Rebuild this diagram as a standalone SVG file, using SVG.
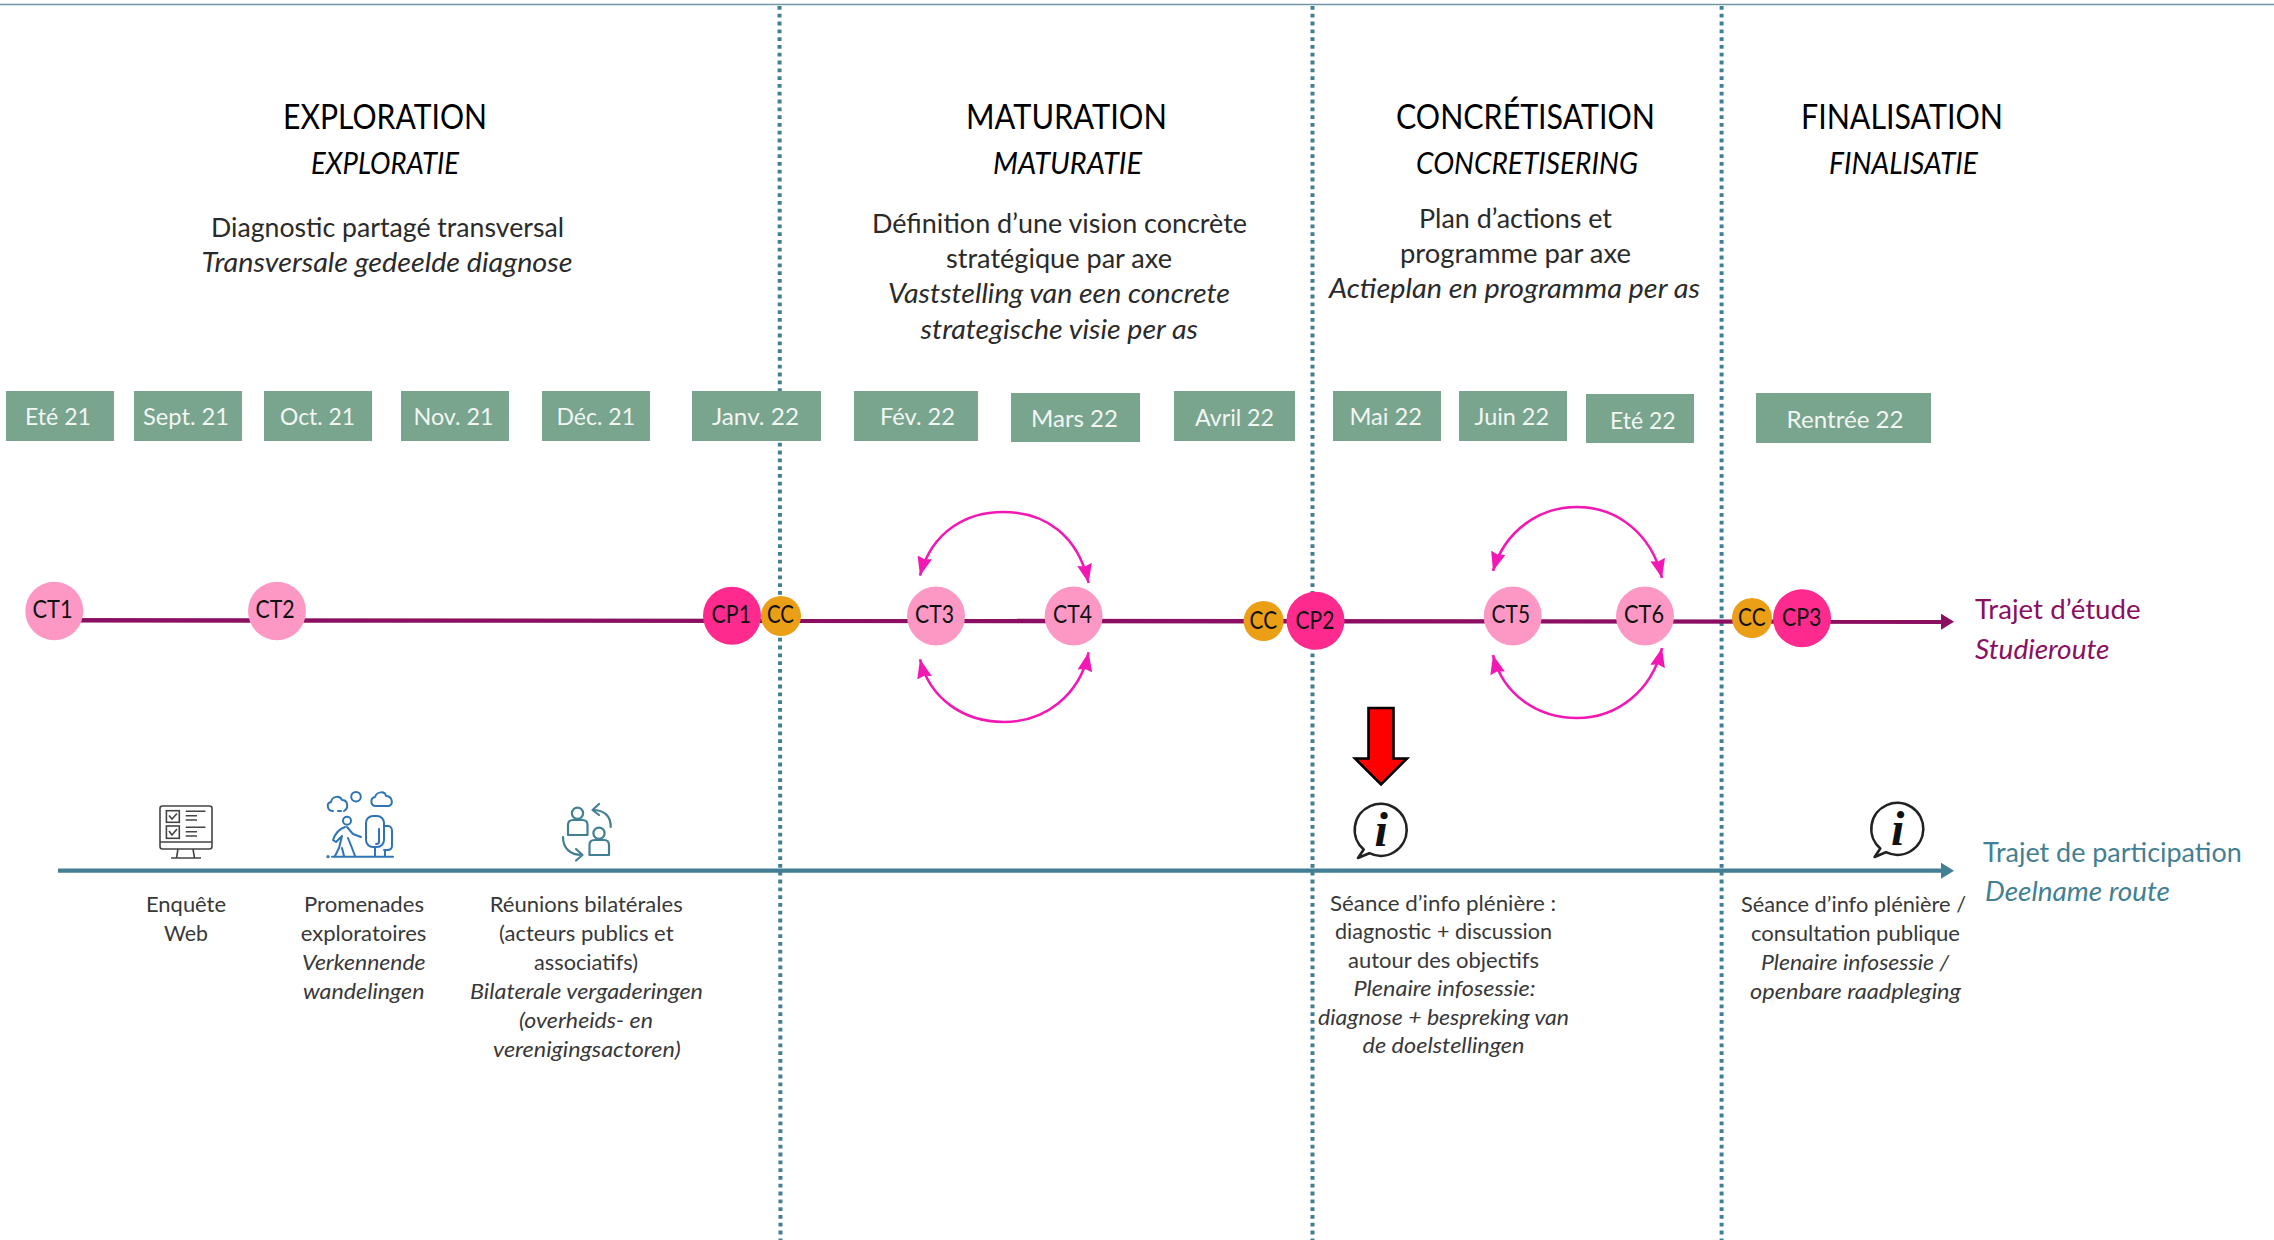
<svg xmlns="http://www.w3.org/2000/svg" width="2274" height="1240" viewBox="0 0 2274 1240">
<style>
text{font-family:"Lato","Open Sans","Liberation Sans",sans-serif;fill:#000}
.it{font-style:italic}
.h1{font-size:34px}
.h2{font-size:30px;font-style:italic}
.b{font-size:26.5px;fill:#2a2a2a}
.s{font-size:21.5px;fill:#383838}
.m{font-size:24px;fill:#f2f6f3}
.n{font-size:25px;fill:#111}
.mb{fill:#79a48e}
.ct{fill:#fd98c5}
.cp{fill:#fe2a8d}
.cc{fill:#eb9f17}
.r1{font-size:27px;fill:#8a0f62}
.r2{font-size:27px;fill:#437f94}
.dot{stroke:#437f94;stroke-width:4;stroke-dasharray:3.8 4;fill:none}
.arc{stroke:#f318b4;stroke-width:2.6;fill:none;marker-start:url(#pk);marker-end:url(#pk)}
.ic1{fill:none;stroke:#444;stroke-width:1.6}
.ic2{fill:none;stroke:#2f75b5;stroke-width:2;stroke-linecap:round;stroke-linejoin:round}
.ic3{fill:none;stroke:#437f94;stroke-width:2.2;stroke-linecap:round;stroke-linejoin:round}
.bub{fill:#fff;stroke:#222;stroke-width:2.6;stroke-linejoin:round}
.i{font-family:"Liberation Serif",serif;font-weight:bold;font-style:italic;font-size:48px;fill:#111}
</style>
<defs>
<marker id="pk" viewBox="0 0 19 15" refX="19" refY="7.5" markerWidth="19" markerHeight="15" markerUnits="userSpaceOnUse" orient="auto-start-reverse"><path d="M0,0 L19,7.5 L0,15 L2,7.5 Z" fill="#f318b4"/></marker>
<marker id="pu" viewBox="0 0 13 16" refX="0" refY="8" markerWidth="13" markerHeight="16" markerUnits="userSpaceOnUse" orient="auto"><path d="M0,0 L13,8 L0,16 Z" fill="#8a0f62"/></marker>
<marker id="te" viewBox="0 0 13 16" refX="0" refY="8" markerWidth="13" markerHeight="16" markerUnits="userSpaceOnUse" orient="auto"><path d="M0,0 L13,8 L0,16 Z" fill="#437f94"/></marker>
</defs>
<rect width="2274" height="1240" fill="#fff"/>
<line x1="0" y1="4.5" x2="2274" y2="4.5" stroke="#6f97a6" stroke-width="1.6"/>

<g id="connectors">
<line class="dot" x1="779.5" y1="6" x2="780.5" y2="1240"/>
<line class="dot" x1="1312.5" y1="6" x2="1312.5" y2="1240"/>
<line class="dot" x1="1721.6" y1="6" x2="1721.6" y2="1240"/>
<path d="M54,620.3 L1941,621.7" stroke="#8a0f62" stroke-width="4.4" fill="none" marker-end="url(#pu)"/>
<path d="M58,870.7 L1941,870.7" stroke="#437f94" stroke-width="4.2" fill="none" marker-end="url(#te)"/>
<path class="arc" d="M920,575.7 C932,530 968,512 1003,512 C1045,512 1078,535 1088.6,583"/>
<path class="arc" d="M920,659.3 C930,700 965,722 1003.6,722 C1045,722 1080,695 1088.6,652.3"/>
<path class="arc" d="M1493,571 C1505,530 1540,507 1577,507 C1618,507 1652,535 1662,578"/>
<path class="arc" d="M1493,655 C1503,695 1538,718 1577,718 C1618,718 1652,690 1662,648"/>
</g>

<g id="phase-exploration">
<text class="h1" x="283" y="128.5" textLength="204" lengthAdjust="spacingAndGlyphs">EXPLORATION</text>
<text class="h2" x="311" y="174" textLength="148" lengthAdjust="spacingAndGlyphs">EXPLORATIE</text>
<text class="b" x="211" y="236.7" textLength="353" lengthAdjust="spacingAndGlyphs">Diagnostic partagé transversal</text>
<text class="b it" x="201.5" y="271.7" textLength="371" lengthAdjust="spacingAndGlyphs">Transversale gedeelde diagnose</text>
</g>
<g id="phase-maturation">
<text class="h1" x="966" y="128.5" textLength="201" lengthAdjust="spacingAndGlyphs">MATURATION</text>
<text class="h2" x="993" y="174" textLength="149" lengthAdjust="spacingAndGlyphs">MATURATIE</text>
<text class="b" x="872" y="232.5" textLength="375" lengthAdjust="spacingAndGlyphs">Définition d’une vision concrète</text>
<text class="b" x="946" y="268" textLength="226" lengthAdjust="spacingAndGlyphs">stratégique par axe</text>
<text class="b it" x="888" y="303" textLength="342" lengthAdjust="spacingAndGlyphs">Vaststelling van een concrete</text>
<text class="b it" x="920.6" y="338.5" textLength="277.4" lengthAdjust="spacingAndGlyphs">strategische visie per as</text>
</g>
<g id="phase-concretisation">
<text class="h1" x="1396" y="128.5" textLength="259" lengthAdjust="spacingAndGlyphs">CONCRÉTISATION</text>
<text class="h2" x="1416" y="174" textLength="222" lengthAdjust="spacingAndGlyphs">CONCRETISERING</text>
<text class="b" x="1419" y="227.5" textLength="193" lengthAdjust="spacingAndGlyphs">Plan d’actions et</text>
<text class="b" x="1400" y="262.5" textLength="231" lengthAdjust="spacingAndGlyphs">programme par axe</text>
<text class="b it" x="1329" y="298" textLength="371" lengthAdjust="spacingAndGlyphs">Actieplan en programma per as</text>
</g>
<g id="phase-finalisation">
<text class="h1" x="1801" y="128.5" textLength="202" lengthAdjust="spacingAndGlyphs">FINALISATION</text>
<text class="h2" x="1829" y="174" textLength="149" lengthAdjust="spacingAndGlyphs">FINALISATIE</text>
</g>

<g id="month-ete21"><rect class="mb" x="6" y="391" width="108" height="50"/><text class="m" x="25" y="425" textLength="66" lengthAdjust="spacingAndGlyphs">Eté 21</text></g>
<g id="month-sept21"><rect class="mb" x="134" y="391" width="108" height="50"/><text class="m" x="143" y="425" textLength="86" lengthAdjust="spacingAndGlyphs">Sept. 21</text></g>
<g id="month-oct21"><rect class="mb" x="264" y="391" width="108" height="50"/><text class="m" x="280" y="425" textLength="75" lengthAdjust="spacingAndGlyphs">Oct. 21</text></g>
<g id="month-nov21"><rect class="mb" x="401" y="391" width="108" height="50"/><text class="m" x="413.5" y="425" textLength="80" lengthAdjust="spacingAndGlyphs">Nov. 21</text></g>
<g id="month-dec21"><rect class="mb" x="542" y="391" width="108" height="50"/><text class="m" x="556.5" y="425" textLength="78.5" lengthAdjust="spacingAndGlyphs">Déc. 21</text></g>
<g id="month-janv22"><rect class="mb" x="692" y="391" width="129" height="50"/><text class="m" x="712" y="425" textLength="87" lengthAdjust="spacingAndGlyphs">Janv. 22</text></g>
<g id="month-fev22"><rect class="mb" x="854" y="391" width="124" height="50"/><text class="m" x="880" y="425" textLength="75" lengthAdjust="spacingAndGlyphs">Fév. 22</text></g>
<g id="month-mars22"><rect class="mb" x="1011" y="393" width="129" height="49"/><text class="m" x="1031" y="427" textLength="87" lengthAdjust="spacingAndGlyphs">Mars 22</text></g>
<g id="month-avril22"><rect class="mb" x="1174" y="391" width="121" height="50"/><text class="m" x="1195" y="426" textLength="79" lengthAdjust="spacingAndGlyphs">Avril 22</text></g>
<g id="month-mai22"><rect class="mb" x="1333" y="391" width="108" height="50"/><text class="m" x="1349.5" y="425" textLength="72.5" lengthAdjust="spacingAndGlyphs">Mai 22</text></g>
<g id="month-juin22"><rect class="mb" x="1459" y="391" width="108" height="50"/><text class="m" x="1474.6" y="425" textLength="74.4" lengthAdjust="spacingAndGlyphs">Juin 22</text></g>
<g id="month-ete22"><rect class="mb" x="1586" y="394" width="108" height="49"/><text class="m" x="1610" y="428.5" textLength="65.6" lengthAdjust="spacingAndGlyphs">Eté 22</text></g>
<g id="month-rentree22"><rect class="mb" x="1756" y="393" width="175" height="50"/><text class="m" x="1786.6" y="427.5" textLength="117" lengthAdjust="spacingAndGlyphs">Rentrée 22</text></g>

<g id="ct1"><ellipse class="ct" cx="54.3" cy="611" rx="29" ry="29.3"/><text class="n" x="32.5" y="618" textLength="40.2" lengthAdjust="spacingAndGlyphs">CT1</text></g>
<g id="ct2"><ellipse class="ct" cx="277" cy="611" rx="29" ry="29.3"/><text class="n" x="255.5" y="618" textLength="39.2" lengthAdjust="spacingAndGlyphs">CT2</text></g>
<g id="cc1"><ellipse class="cc" cx="781" cy="616" rx="20" ry="20"/><text class="n" x="767" y="623" textLength="27" lengthAdjust="spacingAndGlyphs">CC</text></g>
<g id="cp1"><ellipse class="cp" cx="732" cy="615.7" rx="29" ry="29"/><text class="n" x="711.6" y="623" textLength="39.4" lengthAdjust="spacingAndGlyphs">CP1</text></g>
<g id="ct3"><ellipse class="ct" cx="936" cy="616" rx="29" ry="29.5"/><text class="n" x="915" y="623" textLength="39" lengthAdjust="spacingAndGlyphs">CT3</text></g>
<g id="ct4"><ellipse class="ct" cx="1073.6" cy="616" rx="29" ry="29.5"/><text class="n" x="1053" y="623" textLength="39" lengthAdjust="spacingAndGlyphs">CT4</text></g>
<g id="cc2"><ellipse class="cc" cx="1263.6" cy="621" rx="20" ry="20"/><text class="n" x="1249.6" y="628.5" textLength="27.4" lengthAdjust="spacingAndGlyphs">CC</text></g>
<g id="cp2"><ellipse class="cp" cx="1315.5" cy="620.7" rx="29" ry="29"/><text class="n" x="1295.6" y="628.5" textLength="38.8" lengthAdjust="spacingAndGlyphs">CP2</text></g>
<g id="ct5"><ellipse class="ct" cx="1512.7" cy="616" rx="29" ry="29.5"/><text class="n" x="1491.6" y="623" textLength="38.4" lengthAdjust="spacingAndGlyphs">CT5</text></g>
<g id="ct6"><ellipse class="ct" cx="1645" cy="616" rx="29" ry="29.5"/><text class="n" x="1624" y="623" textLength="40" lengthAdjust="spacingAndGlyphs">CT6</text></g>
<g id="cc3"><ellipse class="cc" cx="1752" cy="618" rx="20" ry="20"/><text class="n" x="1738" y="625.5" textLength="27.6" lengthAdjust="spacingAndGlyphs">CC</text></g>
<g id="cp3"><ellipse class="cp" cx="1802" cy="618.3" rx="29" ry="29"/><text class="n" x="1782" y="625.5" textLength="39.5" lengthAdjust="spacingAndGlyphs">CP3</text></g>

<g id="label-etude">
<text class="r1" x="1975" y="619" textLength="165.7" lengthAdjust="spacingAndGlyphs">Trajet d’étude</text>
<text class="r1 it" x="1975" y="659" textLength="134.5" lengthAdjust="spacingAndGlyphs">Studieroute</text>
</g>
<g id="label-participation">
<text class="r2" x="1983" y="861.5" textLength="258.7" lengthAdjust="spacingAndGlyphs">Trajet de participation</text>
<text class="r2 it" x="1985" y="901" textLength="185" lengthAdjust="spacingAndGlyphs">Deelname route</text>
</g>

<g id="red-arrow"><path d="M1368.5,708 H1393.5 V758.5 H1407 L1381,784.5 L1355,758.5 H1368.5 Z" fill="#ff0000" stroke="#000" stroke-width="2.6"/></g>

<g id="icon-web">
<rect class="ic1" x="160" y="806" width="52" height="43" rx="2.5"/>
<path class="ic1" d="M160,842 H212 M178,849 L176.5,858 M193,849 L194.5,858 M171,858 H201"/>
<rect class="ic1" x="166.4" y="810.7" width="12.9" height="11.6"/>
<rect class="ic1" x="166.4" y="826" width="12.9" height="12.3"/>
<path class="ic1" d="M169,815.5 L172,819 L177,813.5 M169,831 L172,835 L177,829 M185.7,811.3 H205.4 M185.7,815.7 H197 M185.7,820 H197 M185.7,827.3 H205.4 M185.7,831.7 H197 M185.7,836 H197"/>
</g>
<g id="icon-walk">
<path class="ic2" d="M333,811 C327,811 326,803 331,802 C332,796 340,795 342,800 C348,800 349,808 344,811 M338,811 H341"/>
<circle class="ic2" cx="356" cy="796.7" r="4.8"/>
<path class="ic2" d="M376,806 C370,806 370,798 375,797 C377,791 385,791 386,796 C392,796 394,804 389,806 Z"/>
<circle class="ic2" cx="347" cy="820.7" r="4"/>
<path class="ic2" d="M345,827 C339,829 335,834 333,840 L336,842 L342,836 L339,848 L335,856 M348,838 L352,848 L355,856 M347,827 L353,834 L361,837 M342,848 L344,856"/>
<rect class="ic2" x="366" y="816" width="18" height="31" rx="7"/>
<path class="ic2" d="M384,826 H388 C391,826 392,829 392,831 V846 C392,849 390,850 387,850 H384 M375,847 V856 M385,850 V856 M379,829 V842 Q379,844 376,844 M332,856.7 H393"/>
<circle cx="328" cy="856.7" r="1.6" fill="#2f75b5"/>
</g>
<g id="icon-meeting">
<circle class="ic3" cx="577.5" cy="813.3" r="5.6"/>
<path class="ic3" d="M568,835 V825 Q568,820 573,820 H582.5 Q587.5,820 587.5,825 V835 Z"/>
<circle class="ic3" cx="599" cy="833.3" r="5.6"/>
<path class="ic3" d="M589.5,855 V845 Q589.5,840 594.5,840 H604 Q609,840 609,845 V855 Z"/>
<path class="ic3" d="M610.7,827 C611,816 604,810 593,810 M599,804 L592.5,810 L599,815"/>
<path class="ic3" d="M563,837 C563,848 570,855 582,855 M576,849 L582.5,855 L576,860.5"/>
</g>

<g id="info-1"><path class="bub" d="M1369.3,853.2 A26 26 0 1 0 1363.7,849.5 L1358,858 Z"/><text class="i" x="1374.5" y="846">i</text></g>
<g id="info-2"><path class="bub" d="M1885.9,852.2 A26 26 0 1 0 1880.3,848.5 L1874.6,857 Z"/><text class="i" x="1891" y="845">i</text></g>

<g id="text-enquete">
<text class="s" x="146" y="911.7" textLength="80" lengthAdjust="spacingAndGlyphs">Enquête</text>
<text class="s" x="164" y="941" textLength="44" lengthAdjust="spacingAndGlyphs">Web</text>
</g>
<g id="text-promenades">
<text class="s" x="304" y="911.7" textLength="120" lengthAdjust="spacingAndGlyphs">Promenades</text>
<text class="s" x="300.7" y="941" textLength="125.7" lengthAdjust="spacingAndGlyphs">exploratoires</text>
<text class="s it" x="302" y="970" textLength="123.6" lengthAdjust="spacingAndGlyphs">Verkennende</text>
<text class="s it" x="303" y="999" textLength="121.5" lengthAdjust="spacingAndGlyphs">wandelingen</text>
</g>
<g id="text-reunions">
<text class="s" x="489.7" y="911.7" textLength="193" lengthAdjust="spacingAndGlyphs">Réunions bilatérales</text>
<text class="s" x="499" y="941" textLength="174.6" lengthAdjust="spacingAndGlyphs">(acteurs publics et</text>
<text class="s" x="534" y="970" textLength="104" lengthAdjust="spacingAndGlyphs">associatifs)</text>
<text class="s it" x="470" y="999" textLength="233" lengthAdjust="spacingAndGlyphs">Bilaterale vergaderingen</text>
<text class="s it" x="519" y="1028" textLength="134" lengthAdjust="spacingAndGlyphs">(overheids- en</text>
<text class="s it" x="493" y="1057" textLength="187.7" lengthAdjust="spacingAndGlyphs">verenigingsactoren)</text>
</g>
<g id="text-seance-1">
<text class="s" x="1330" y="910.7" textLength="226" lengthAdjust="spacingAndGlyphs">Séance d’info plénière :</text>
<text class="s" x="1335" y="939" textLength="217" lengthAdjust="spacingAndGlyphs">diagnostic + discussion</text>
<text class="s" x="1348" y="968" textLength="191" lengthAdjust="spacingAndGlyphs">autour des objectifs</text>
<text class="s it" x="1353.6" y="996" textLength="182" lengthAdjust="spacingAndGlyphs">Plenaire infosessie:</text>
<text class="s it" x="1318" y="1025" textLength="251" lengthAdjust="spacingAndGlyphs">diagnose + bespreking van</text>
<text class="s it" x="1362.5" y="1053" textLength="162" lengthAdjust="spacingAndGlyphs">de doelstellingen</text>
</g>
<g id="text-seance-2">
<text class="s" x="1741" y="911.7" textLength="225" lengthAdjust="spacingAndGlyphs">Séance d’info plénière /</text>
<text class="s" x="1751" y="941" textLength="209" lengthAdjust="spacingAndGlyphs">consultation publique</text>
<text class="s it" x="1761" y="970" textLength="188" lengthAdjust="spacingAndGlyphs">Plenaire infosessie /</text>
<text class="s it" x="1750" y="998.5" textLength="211" lengthAdjust="spacingAndGlyphs">openbare raadpleging</text>
</g>
</svg>
